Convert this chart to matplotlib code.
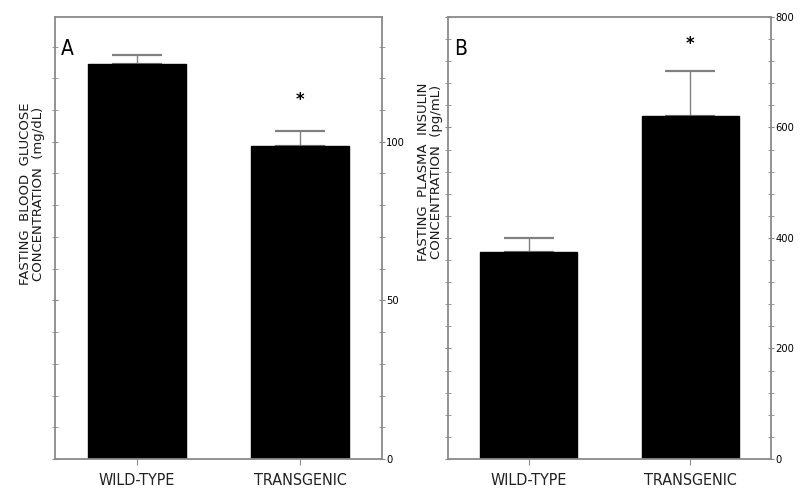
import matplotlib
matplotlib.use("Agg")
import matplotlib.pyplot as plt
from matplotlib import font_manager
from matplotlib.ticker import MultipleLocator

groups = ['WILD-TYPE', 'TRANSGENIC']

glucose = [124.5, 98.6]
glucose_err = [2.8, 4.9]

insulin = [375, 621]
insulin_err = [25, 81]

# look for a condensed face for the tick labels
narrow = font_manager.FontProperties(family='DejaVu Sans')
for fam in ['Liberation Sans Narrow', 'Liberation Sans', 'DejaVu Sans', 'Noto Sans', 'Roboto', 'Open Sans']:
    fp = font_manager.FontProperties(family=fam, stretch='condensed')
    path = font_manager.findfont(fp)
    if 'arrow' in path or 'ondensed' in path:
        narrow = font_manager.FontProperties(fname=path)
        break

fig = plt.figure(figsize=(8, 5.03), dpi=100)
axA = fig.add_axes([0.06875, 0.0875, 0.40875, 0.8787])
axB = fig.add_axes([0.56, 0.0875, 0.40375, 0.8787])

spine_col = '#8a8a8a'
err_col = '#808080'


def panel(ax, vals, errs, ymax, major, minor, letter, ylabel, star_y, label_x, label_y):
    x = range(len(vals))
    ax.bar(x, vals, width=0.6, color='black', edgecolor='black', zorder=2)
    ax.errorbar(x, vals, yerr=[[0] * len(vals), errs], fmt='none', ecolor=err_col,
                elinewidth=1, capsize=18, capthick=1.6, zorder=1)
    ax.set_xlim(-0.5, 1.5)
    ax.set_ylim(0, ymax)
    ax.set_xticks(list(x))
    ax.set_xticklabels(groups, fontproperties=narrow, fontsize=11.5, color='#222222')
    ax.yaxis.set_major_locator(MultipleLocator(major))
    ax.yaxis.set_minor_locator(MultipleLocator(minor))
    ax.yaxis.tick_right()
    ax.tick_params(axis='y', which='both', left=True, right=True, labelleft=False,
                   labelright=True, direction='inout', length=4, color=spine_col,
                   labelsize=8, pad=1)
    ax.tick_params(axis='x', direction='out', length=4, color=spine_col, pad=6)
    for lbl in ax.get_yticklabels():
        lbl.set_fontproperties(narrow)
        lbl.set_fontsize(8)
    for s in ax.spines.values():
        s.set_color(spine_col)
        s.set_linewidth(1.3)
    ax.text(0.018, 0.928, letter, transform=ax.transAxes, fontproperties=narrow,
            fontsize=15, ha='left', va='center')
    ax.text(1, star_y, '*', fontsize=12, fontweight='bold', ha='center', va='center')
    ax.set_ylabel(ylabel, fontsize=9.5, color='#1a1a1a', linespacing=1.0)
    ax.yaxis.set_label_coords(label_x, label_y)


panel(axA, glucose, glucose_err, 139.3, 50, 10, 'A',
      'FASTING  BLOOD  GLUCOSE\nCONCENTRATION  (mg/dL)', 113, -0.03, 0.60)
panel(axB, insulin, insulin_err, 800, 200, 40, 'B',
      'FASTING  PLASMA  INSULIN\nCONCENTRATION  (pg/mL)', 752, -0.016, 0.65)

fig.savefig('out.png', dpi=100)
